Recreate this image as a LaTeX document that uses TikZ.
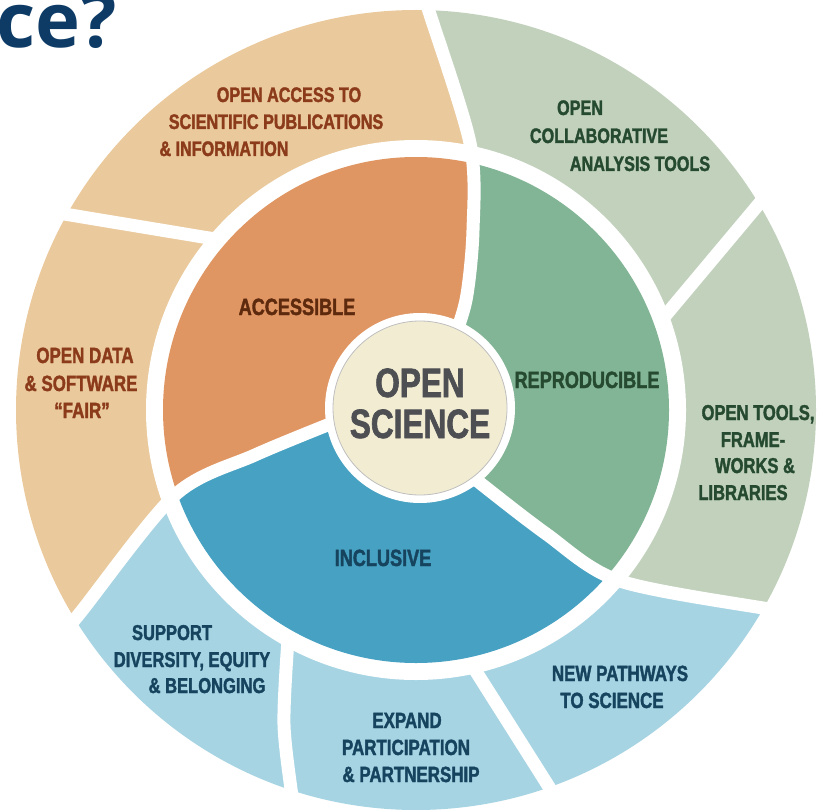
\documentclass[tikz,border=0pt]{standalone}
\usepackage{fontspec}
\newfontfamily\labelfont[FakeStretch=0.77, FakeBold=1.6]{Liberation Sans Bold}
\newfontfamily\headfont{Open Sans Bold}

\definecolor{tanfill}{HTML}{EAC99C}
\definecolor{orangefill}{HTML}{E09663}
\definecolor{sagefill}{HTML}{C1D1BC}
\definecolor{greenfill}{HTML}{82B595}
\definecolor{skyfill}{HTML}{A6D4E3}
\definecolor{bluefill}{HTML}{47A1C2}
\definecolor{creamfill}{HTML}{F2ECD2}
\definecolor{tantext}{HTML}{8B3A1A}
\definecolor{orangetext}{HTML}{5E2A0E}
\definecolor{greentext}{HTML}{254A2F}
\definecolor{bluetext}{HTML}{16435E}
\definecolor{coretext}{HTML}{4D4F53}
\definecolor{titlenavy}{HTML}{0D3B66}

\tikzset{
  lbl/.style={font=\labelfont\fontsize{#1}{#1}\selectfont, anchor=base, inner sep=0pt},
  lbl/.default=22,
  tanlbl/.style={lbl=#1, text=tantext}, tanlbl/.default=22,
  orlbl/.style={lbl=#1, text=orangetext}, orlbl/.default=23.5,
  grlbl/.style={lbl=#1, text=greentext}, grlbl/.default=22,
  bllbl/.style={lbl=#1, text=bluetext}, bllbl/.default=22,
  gap/.style={draw=white, line width=13pt, line cap=butt, line join=round},
}

\begin{document}
\begin{tikzpicture}[x=1pt, y=-1pt]
  \useasboundingbox (0,0) rectangle (829,810);
  \clip (0,0) rectangle (829,810);

  % outer ring sectors
  \begin{scope}
    \clip (416,410) circle[radius=400pt];
    \fill[sagefill] (416,410) -- (470,143) -- (427,5) -- (412,-43) -- (900,-100) -- (802,152) -- (762,200) -- (674,305) -- cycle;
    \fill[sagefill] (416,410) -- (674,305) -- (762,200) -- (802,152) -- (950,400) -- (825,618) -- (775,610) -- (632,587) -- cycle;
    \fill[skyfill] (416,410) -- (632,587) -- (775,610) -- (825,618) -- (800,900) -- (573,825) -- (548,785) -- (478,675) -- cycle;
    \fill[skyfill] (416,410) -- (478,675) -- (548,785) -- (573,825) -- (430,900) -- (295,850) -- (292,800) -- (284,725) -- (287,655) -- cycle;
    \fill[skyfill] (416,410) -- (287,655) -- (284,725) -- (292,800) -- (295,850) -- (0,850) -- (45,656) -- (80,613) -- (162,508) -- cycle;
    \fill[tanfill] (416,410) -- (162,508) -- (80,613) -- (45,656) -- (-100,420) -- (20,207) -- (70,215) -- (205,237) -- cycle;
    \fill[tanfill] (416,410) -- (205,237) -- (70,215) -- (20,207) -- (100,-100) -- (412,-43) -- (427,5) -- (470,143) -- cycle;
  \end{scope}

  % white band between the two rings
  \fill[white] (416,410) circle[radius=270pt];

  % middle ring sectors
  \begin{scope}
    \clip (416,410) circle[radius=253pt];
    \fill[orangefill] (420,408) -- (333,423) -- (255,455) -- (178,492) -- (140,510) -- (-50,500) -- (100,-100) -- (471,100) -- (472,150) -- (473,230) -- (468,290) -- (457,327) -- cycle;
    \fill[greenfill] (420,408) -- (457,327) -- (468,290) -- (473,230) -- (472,150) -- (471,100) -- (900,100) -- (900,800) -- (660,600) -- (611,577) -- (545,533) -- (478,482) -- cycle;
    \fill[bluefill] (420,408) -- (478,482) -- (545,533) -- (611,577) -- (660,600) -- (600,900) -- (0,900) -- (-50,500) -- (140,510) -- (178,492) -- (255,455) -- (333,423) -- cycle;
  \end{scope}

  % white separators between the pieces
  \draw[gap] plot[smooth] coordinates {(424,-10) (427,5) (470,143) (473,230) (466,300) (450,350)};
  \draw[gap] (810,143) -- (665,316);
  \draw[gap] plot[smooth] coordinates {(470,475) (545,533) (620,581) (775,610) (840,620)};
  \draw[gap] (470,662) -- (580,836);
  \draw[gap] plot[smooth] coordinates {(288,640) (284,725) (293,805) (296,840)};
  \draw[gap] plot[smooth] coordinates {(340,420) (255,455) (175,495) (80,613) (40,662)};
  \draw[gap] (215,239) -- (10,205);

  % hub
  \fill[white] (420,408) circle[radius=95pt];
  \fill[creamfill] (420,408) circle[radius=87pt];
  \draw[black!25, line width=0.8pt] (420,408) circle[radius=87pt];

  % title fragment
  \node[font=\headfont\fontsize{76}{76}\selectfont, text=titlenavy, anchor=base west, inner sep=0pt] (title) at (-4,48) {ce?};

  % hub text
  \node[lbl=41, text=coretext] (core1) at (420,397) {OPEN};
  \node[lbl=41, text=coretext] (core2) at (420,438) {SCIENCE};

  % middle ring labels
  \node[orlbl] (accessible) at (297,315) {ACCESSIBLE};
  \node[grlbl=23.5] (reproducible) at (587,388) {REPRODUCIBLE};
  \node[bllbl=23.5] (inclusive) at (383,566) {INCLUSIVE};

  % outer ring labels
  \node[tanlbl=21] (acc1) at (289,102) {OPEN ACCESS TO};
  \node[tanlbl=21] (acc2) at (276,129) {SCIENTIFIC PUBLICATIONS};
  \node[tanlbl=21] (acc3) at (224,156) {\& INFORMATION};

  \node[grlbl=21] (col1) at (580,115) {OPEN};
  \node[grlbl=21] (col2) at (599,143) {COLLABORATIVE};
  \node[grlbl=21] (col3) at (640,171) {ANALYSIS TOOLS};

  \node[grlbl=21.5] (tools1) at (758,420) {OPEN TOOLS,};
  \node[grlbl=21.5] (tools2) at (753,447) {FRAME-};
  \node[grlbl=21.5] (tools3) at (755,473) {WORKS \&};
  \node[grlbl=21.5] (tools4) at (743,500) {LIBRARIES};

  \node[bllbl] (path1) at (620,681) {NEW PATHWAYS};
  \node[bllbl] (path2) at (612,708) {TO SCIENCE};

  \node[bllbl] (exp1) at (407,728) {EXPAND};
  \node[bllbl] (exp2) at (406,755) {PARTICIPATION};
  \node[bllbl] (exp3) at (411,782) {\& PARTNERSHIP};

  \node[bllbl=21.5] (sup1) at (172,640) {SUPPORT};
  \node[bllbl=21.5] (sup2) at (192,667) {DIVERSITY, EQUITY};
  \node[bllbl=21.5] (sup3) at (207,693) {\& BELONGING};

  \node[tanlbl] (data1) at (85,363) {OPEN DATA};
  \node[tanlbl] (data2) at (81,391) {\& SOFTWARE};
  \node[tanlbl] (data3) at (82,418) {“FAIR”};
\end{tikzpicture}
\end{document}
